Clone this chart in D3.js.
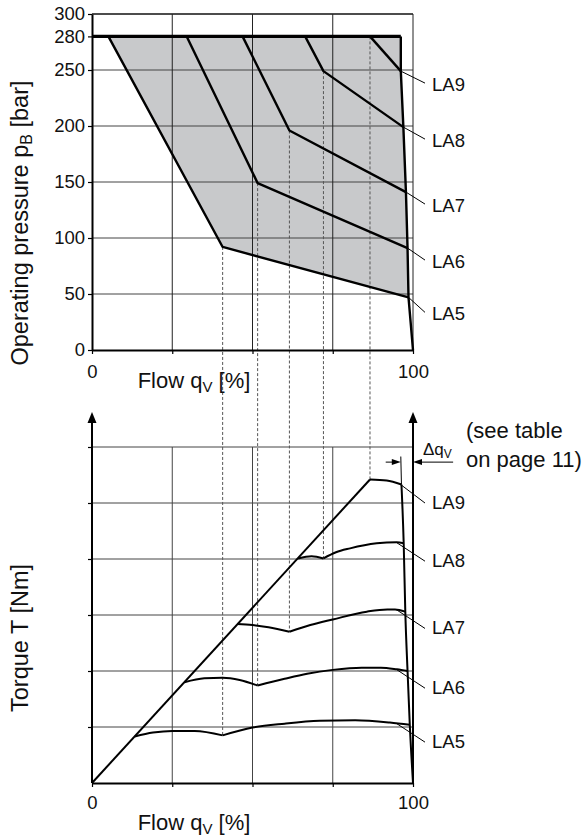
<!DOCTYPE html>
<html>
<head>
<meta charset="utf-8">
<script src="https://cdn.jsdelivr.net/npm/d3@7"></script>
<style>
  body { margin: 0; background: #fff; }
  svg text { font-family: "Liberation Sans", Arial, Helvetica, sans-serif; fill: #111; }
</style>
</head>
<body>
<div id="chart"></div>
<script>
// ---- data ----
var flowTicks = [0, 25, 50, 75, 100];
var flowLabels = [0, 100];
var pressureTicks = [0, 50, 100, 150, 200, 250, 280, 300];
var pressureGrid = [50, 100, 150, 200, 250, 300];
var torqueGrid = [1, 2, 3, 4, 5, 6];
var names = ["LA5", "LA6", "LA7", "LA8", "LA9"];

// operating pressure chart: [flow %, bar]
var pMaxLine = [[0, 280], [96.2, 280]];
var pLA5 = [[5.1, 280], [40.7, 92], [98.6, 47]];
var pLA6 = [[29.5, 280], [51.6, 149], [98.3, 91]];
var pLA7 = [[46.9, 280], [61.5, 196], [97.8, 141]];
var pLA8 = [[66.4, 280], [72.1, 249], [97.0, 199]];
var pLA9 = [[86.6, 280], [96.2, 249]];
var pEdge = [[96.2, 280], [96.2, 249], [97.0, 199], [97.8, 141], [98.3, 91], [98.6, 47], [100, 0]];

// torque chart: [flow %, grid units]; "a" runs up to the knee, "b" after it
var tLA5a = [[13.3, 0.83], [19, 0.90], [25, 0.93], [32, 0.93], [40.7, 0.85]];
var tLA5b = [[40.7, 0.85], [50, 0.99], [60, 1.06], [71, 1.11], [82, 1.12], [92.8, 1.08], [99, 1.04]];
var tLA6a = [[28.8, 1.80], [35, 1.87], [40.7, 1.88], [46, 1.84], [51.6, 1.74]];
var tLA6b = [[51.6, 1.74], [60, 1.86], [67, 1.95], [75, 2.02], [84, 2.06], [90, 2.06], [95, 2.03], [98.3, 2.0]];
var tLA7a = [[45.2, 2.84], [50, 2.82], [55, 2.78], [61.5, 2.70]];
var tLA7b = [[61.5, 2.70], [68, 2.82], [75, 2.92], [85.6, 3.06], [92, 3.10], [94.4, 3.10], [97.6, 3.06]];
var tLA8a = [[64.2, 4.01], [68.4, 4.05], [72.1, 4.01]];
var tLA8b = [[72.1, 4.01], [76, 4.12], [80.4, 4.19], [88.7, 4.28], [94.9, 4.30], [97.1, 4.28]];
var tLA9a = [[86.6, 5.42]];
var tLA9b = [[86.6, 5.42], [91.8, 5.40], [96.4, 5.33]];
var tLine = [[0, 0], [86.6, 5.42]];
var tEdge = [[96.4, 5.33], [97.1, 4.28], [97.6, 3.06], [98.3, 2.0], [99.0, 1.04], [100, 0]];
var tEdgeRef = [[96.2, 5.83], [96.4, 5.33]];
var dqLevel = 5.73;
var dqLeft = [91.5, 96.2];
var dqRight = [112.5, 100];

var pCurves = [pLA5, pLA6, pLA7, pLA8, pLA9];
var tCurvesA = [tLA5a, tLA6a, tLA7a, tLA8a, tLA9a];
var tCurvesB = [tLA5b, tLA6b, tLA7b, tLA8b, tLA9b];

// ---- layout ----
var W = 584, H = 836;
var x = d3.scaleLinear().domain([0, 100]).range([92, 413]);
var yP = d3.scaleLinear().domain([0, 300]).range([350, 14]);
var yT = d3.scaleLinear().domain([0, 6]).range([783, 447]);

var svg = d3.select("#chart").append("svg").attr("width", W).attr("height", H);

var lineP = d3.line().x(function(d) { return x(d[0]); }).y(function(d) { return yP(d[1]); });
var lineT = d3.line().x(function(d) { return x(d[0]); }).y(function(d) { return yT(d[1]); });
var curveT = d3.line().curve(d3.curveMonotoneX).x(function(d) { return x(d[0]); }).y(function(d) { return yT(d[1]); });

var last = function(a) { return a[a.length - 1]; };

// ================= top: operating pressure =================
// shaded field: max pressure line, right edge, back along LA5
var field = [pLA5[0], last(pMaxLine)]
  .concat(pEdge.slice(1, pEdge.length - 1))
  .concat(pLA5.slice(0, 2).reverse());
svg.append("path").attr("d", lineP(field) + "Z").attr("fill", "#c8c9cb");

var gTop = svg.append("g").attr("class", "grid-top");
gTop.selectAll("line.h").data(pressureGrid).enter().append("line")
  .attr("x1", x(0)).attr("x2", x(100))
  .attr("y1", function(d) { return yP(d); }).attr("y2", function(d) { return yP(d); })
  .attr("stroke", function(d) { return d === 300 ? "#111" : "#444"; })
  .attr("stroke-width", function(d) { return d === 300 ? 1.6 : 1; });
gTop.selectAll("line.v").data([25, 50, 75, 100]).enter().append("line")
  .attr("x1", function(d) { return x(d); }).attr("x2", function(d) { return x(d); })
  .attr("y1", yP(0)).attr("y2", yP(300))
  .attr("stroke", "#222").attr("stroke-width", 1);

// ================= bottom: torque =================
var gBot = svg.append("g").attr("class", "grid-bottom");
gBot.selectAll("line.h").data(torqueGrid).enter().append("line")
  .attr("x1", x(0)).attr("x2", x(100))
  .attr("y1", function(d) { return yT(d); }).attr("y2", function(d) { return yT(d); })
  .attr("stroke", "#444").attr("stroke-width", 1);
gBot.selectAll("line.v").data([25, 50, 75]).enter().append("line")
  .attr("x1", function(d) { return x(d); }).attr("x2", function(d) { return x(d); })
  .attr("y1", yT(0)).attr("y2", yT(6))
  .attr("stroke", "#444").attr("stroke-width", 1);

// dashed links from each knee in the pressure chart down to the torque chart
var knees = names.map(function(n, i) {
  var pc = pCurves[i];
  var top = pc.length > 2 ? pc[1] : pc[0];
  return { flow: top[0], p: top[1], t: last(tCurvesA[i])[1] };
});
svg.append("g").selectAll("line").data(knees).enter().append("line")
  .attr("x1", function(d) { return x(d.flow); }).attr("x2", function(d) { return x(d.flow); })
  .attr("y1", function(d) { return yP(d.p); }).attr("y2", function(d) { return yT(d.t); })
  .attr("stroke", "#555").attr("stroke-width", 1).attr("stroke-dasharray", "3,2");

// top curves
var curvesTop = svg.append("g").attr("fill", "none").attr("stroke", "#000").attr("stroke-linejoin", "round");
curvesTop.append("path").attr("d", lineP(pMaxLine)).attr("stroke-width", 3.2);
curvesTop.selectAll("path.la").data(pCurves).enter().append("path").attr("class", "la")
  .attr("d", lineP).attr("stroke-width", 2.4);
curvesTop.append("path").attr("d", lineP(pEdge)).attr("stroke-width", 2.4);

// bottom curves
var curvesBot = svg.append("g").attr("fill", "none").attr("stroke", "#000").attr("stroke-linejoin", "round");
curvesBot.append("path").attr("d", lineT(tLine)).attr("stroke-width", 2);
curvesBot.selectAll("path.a").data(tCurvesA.filter(function(c) { return c.length > 1; })).enter()
  .append("path").attr("d", curveT).attr("stroke-width", 2);
var bPaths = curvesBot.selectAll("path.b").data(tCurvesB).enter()
  .append("path").attr("class", "b").attr("d", curveT).attr("stroke-width", 2);
curvesBot.append("path").attr("d", curveT(tEdge)).attr("stroke-width", 2);
curvesBot.append("path").attr("d", lineT(tEdgeRef)).attr("stroke-width", 1);

// ---- axes ----
var axisLeftTop = d3.axisLeft(yP).tickValues(pressureTicks).tickSize(4).tickSizeOuter(0).tickPadding(3);
var gy = svg.append("g").attr("transform", "translate(" + x(0) + ",0)").call(axisLeftTop);
var axisBottomTop = d3.axisBottom(x).tickValues(flowTicks).tickSize(4).tickSizeOuter(0).tickPadding(11)
  .tickFormat(function(d) { return flowLabels.indexOf(d) >= 0 ? d : ""; });
var gx = svg.append("g").attr("transform", "translate(0," + yP(0) + ")").call(axisBottomTop);

var axisBottomBot = d3.axisBottom(x).tickValues(flowTicks).tickSize(4).tickSizeOuter(0).tickPadding(9)
  .tickFormat(function(d) { return flowLabels.indexOf(d) >= 0 ? d : ""; });
var gx2 = svg.append("g").attr("transform", "translate(0," + yT(0) + ")").call(axisBottomBot);
var axisLeftBot = d3.axisLeft(yT).tickValues(torqueGrid).tickSize(4).tickSizeOuter(0).tickFormat("");
var gy2 = svg.append("g").attr("transform", "translate(" + x(0) + ",0)").call(axisLeftBot);

[gy, gx, gx2, gy2].forEach(function(g) {
  g.select(".domain").attr("stroke", "#000").attr("stroke-width", 2);
  g.selectAll(".tick line").attr("stroke", "#000").attr("stroke-width", 1.2);
  g.selectAll(".tick text").attr("font-size", 18.5).attr("fill", "#111")
    .attr("font-family", "'Liberation Sans', Arial, sans-serif");
});
gy2.select(".domain").remove();

// torque axes with arrows on both sides
var arrowTip = yT(6) - 35;
[0, 100].forEach(function(f) {
  svg.append("line").attr("x1", x(f)).attr("x2", x(f))
    .attr("y1", yT(0)).attr("y2", arrowTip + 8)
    .attr("stroke", "#000").attr("stroke-width", 2);
  svg.append("path")
    .attr("d", "M" + x(f) + "," + arrowTip + "l4.5,11h-9z")
    .attr("fill", "#000");
});

// ---- labels ----
// pressure chart: leaders from the curve ends
var lblTop = svg.append("g");
pCurves.forEach(function(c, i) {
  var e = last(c);
  var ex = x(e[0]), ey = yP(e[1]);
  var dy = i === 0 ? 15 : 12;
  lblTop.append("line").attr("x1", ex).attr("y1", ey).attr("x2", 425).attr("y2", ey + dy)
    .attr("stroke", "#000").attr("stroke-width", 1);
  lblTop.append("text").attr("x", 432).attr("y", ey + dy + 7.5).attr("font-size", 18.5).text(names[i]);
});

// torque chart: leaders start on the curve near x = 395
function yOnPath(node, px) {
  var lo = 0, hi = node.getTotalLength();
  for (var k = 0; k < 40; k++) {
    var mid = (lo + hi) / 2;
    if (node.getPointAtLength(mid).x < px) lo = mid; else hi = mid;
  }
  return node.getPointAtLength(lo).y;
}
var lblBot = svg.append("g");
bPaths.each(function(d, i) {
  var sx = i === 4 ? 400 : 396;
  var sy = yOnPath(this, sx);
  lblBot.append("line").attr("x1", sx).attr("y1", sy).attr("x2", 425).attr("y2", sy + 19)
    .attr("stroke", "#000").attr("stroke-width", 1);
  lblBot.append("text").attr("x", 432).attr("y", sy + 25).attr("font-size", 18.5).text(names[i]);
});

// delta q annotation
var dqY = yT(dqLevel);
[dqLeft, dqRight].forEach(function(a) {
  var x0 = x(a[0]), x1 = x(a[1]);
  var dir = x1 > x0 ? 1 : -1;
  svg.append("line").attr("x1", x0).attr("x2", x1 - dir * 6).attr("y1", dqY).attr("y2", dqY)
    .attr("stroke", "#000").attr("stroke-width", 1);
  svg.append("path").attr("d", "M" + x1 + "," + dqY + "l" + (-dir * 9) + ",-3v6z").attr("fill", "#000");
});
var dq = svg.append("text").attr("x", 423).attr("y", dqY - 7).attr("font-size", 17);
dq.append("tspan").text("\u0394q");
dq.append("tspan").attr("font-size", 12).attr("dy", 3).text("V");
svg.append("text").attr("x", 466).attr("y", 438).attr("font-size", 22).text("(see table");
svg.append("text").attr("x", 466).attr("y", 467).attr("font-size", 22).text("on page 11)");

// axis titles
function flowTitle(yBase) {
  var t = svg.append("text").attr("x", 194).attr("y", yBase).attr("text-anchor", "middle").attr("font-size", 22);
  t.append("tspan").text("Flow q");
  t.append("tspan").attr("font-size", 15).attr("dy", 4).text("V");
  t.append("tspan").attr("dy", -4).text(" [%]");
}
flowTitle(388);
flowTitle(830);

var ty = svg.append("text").attr("transform", "translate(28,223) rotate(-90)")
  .attr("text-anchor", "middle").attr("font-size", 23.5);
ty.append("tspan").text("Operating pressure p");
ty.append("tspan").attr("font-size", 16).attr("dy", 4).text("B");
ty.append("tspan").attr("dy", -4).text(" [bar]");

svg.append("text").attr("transform", "translate(28,638) rotate(-90)")
  .attr("text-anchor", "middle").attr("font-size", 23.5).text("Torque T [Nm]");
</script>
</body>
</html>
